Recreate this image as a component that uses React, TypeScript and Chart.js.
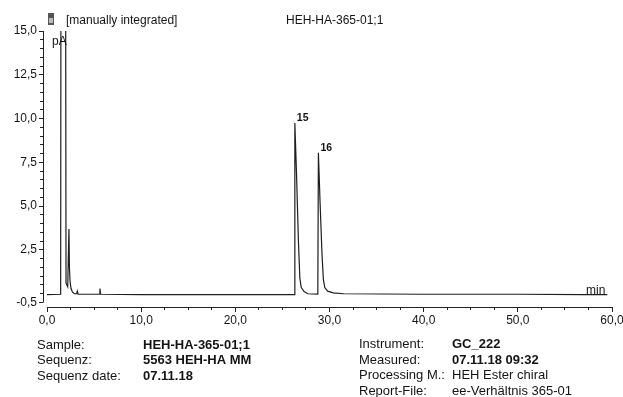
import React, { useEffect, useRef } from 'react';
import { Chart, registerables } from 'chart.js';

Chart.register(...registerables);

// ---- data ----
const times = [
  0, 1.45, 1.5, 1.95, 2.02, 2.2, 2.33, 2.38, 2.45, 2.55, 2.7, 2.9, 3.15, 3.22, 3.3,
  5.55, 5.62, 5.7, 10, 20, 26.27, 26.32, 26.5, 26.7, 26.85, 27.0, 27.3, 27.7,
  28.76, 28.82, 29.0, 29.2, 29.35, 29.5, 29.8, 30.4, 31.5, 40, 50, 57, 59.5,
];
const signal = [
  -0.05, -0.03, 30, 30, 0.6, 0.4, 3.7, 1.5, 0.7, 0.3, 0.1, 0.0, 0.0, 0.15, -0.02,
  -0.03, 0.3, -0.03, -0.05, -0.05, -0.05, 9.75, 6.8, 3.0, 0.9, 0.35, 0.12, 0.0,
  -0.02, 8.05, 5.2, 2.3, 0.8, 0.35, 0.15, 0.05, 0.0, -0.03, -0.03, -0.05, -0.05,
];

const peakNames = ['15', '16'];
const peakTimes = [26.32, 28.82];
const peakHeights = [9.75, 8.05];

const xMajorTicks = [0, 10, 20, 30, 40, 50, 60];
const xMinorTicks = [
  0, 2.5, 5, 7.5, 10, 12.5, 15, 17.5, 20, 22.5, 25, 27.5, 30, 32.5, 35, 37.5,
  40, 42.5, 45, 47.5, 50, 52.5, 55, 57.5, 60,
];
const yMajorTicks = [-0.5, 2.5, 5, 7.5, 10, 12.5, 15];
const yMinorTicks = [
  -0.5, 0, 0.5, 1, 1.5, 2, 2.5, 3, 3.5, 4, 4.5, 5, 5.5, 6, 6.5, 7, 7.5, 8, 8.5,
  9, 9.5, 10, 10.5, 11, 11.5, 12, 12.5, 13, 13.5, 14, 14.5, 15,
];

const headerNote = '[manually integrated]';
const chartTitle = 'HEH-HA-365-01;1';
const yUnit = 'pA';
const xUnit = 'min';

const infoLeftLabels = ['Sample:', 'Sequenz:', 'Sequenz date:'];
const infoLeftValues = ['HEH-HA-365-01;1', '5563 HEH-HA MM', '07.11.18'];
const infoRightLabels = ['Instrument:', 'Measured:', 'Processing M.:', 'Report-File:'];
const infoRightValues = ['GC_222', '07.11.18 09:32', 'HEH Ester chiral', 'ee-Verhältnis 365-01'];
const infoRightBold = [true, true, false, false];

// ---- layout constants ----
const X_MIN = -0.425;
const X_MAX = 60;
const Y_MIN = -0.757;
const Y_MAX = 15;
const FONT = '"Liberation Sans", Arial, Helvetica, sans-serif';
const INK = '#141414';

const fmt = (v: number) => v.toFixed(1).replace('.', ',');

const decorPlugin = {
  id: 'decor',
  afterDraw(chart: any) {
    const ctx = chart.ctx as CanvasRenderingContext2D;
    const xs = chart.scales.x;
    const ys = chart.scales.y;
    const area = chart.chartArea;
    ctx.save();
    // axis lines
    ctx.strokeStyle = '#222';
    ctx.lineWidth = 1;
    ctx.beginPath();
    const bx = Math.round(area.left) + 0.5;
    ctx.moveTo(bx, ys.getPixelForValue(15));
    ctx.lineTo(bx, ys.getPixelForValue(-0.5));
    const by = Math.round(area.bottom) + 0.5;
    ctx.moveTo(xs.getPixelForValue(0), by);
    ctx.lineTo(xs.getPixelForValue(60), by);
    ctx.stroke();

    ctx.fillStyle = INK;
    ctx.textBaseline = 'alphabetic';
    ctx.textAlign = 'left';

    // header icon
    ctx.fillStyle = '#555';
    ctx.fillRect(48, 13, 6, 12);
    ctx.fillStyle = '#bbb';
    ctx.fillRect(49, 18, 4, 5);
    ctx.fillStyle = INK;

    ctx.font = `12px ${FONT}`;
    ctx.fillText(headerNote, 66, 23.5);
    ctx.fillText(chartTitle, 286, 23.5);

    // units
    ctx.fillText(yUnit, 52, 45);
    ctx.fillText(xUnit, 586, 294);

    // peak labels
    ctx.font = `bold 10.5px ${FONT}`;
    for (let i = 0; i < peakNames.length; i++) {
      const px = xs.getPixelForValue(peakTimes[i]);
      const py = ys.getPixelForValue(peakHeights[i]);
      ctx.fillText(peakNames[i], px + 2, py - 1.5);
    }

    // info block
    const leftRows = [348.5, 363.5, 379.5];
    for (let i = 0; i < infoLeftLabels.length; i++) {
      ctx.font = `13px ${FONT}`;
      ctx.fillText(infoLeftLabels[i], 37, leftRows[i]);
      ctx.font = `bold 13px ${FONT}`;
      ctx.fillText(infoLeftValues[i], 143, leftRows[i]);
    }
    const rightRows = [347.5, 363.5, 378.5, 394.5];
    for (let i = 0; i < infoRightLabels.length; i++) {
      ctx.font = `13px ${FONT}`;
      ctx.fillText(infoRightLabels[i], 359, rightRows[i]);
      ctx.font = `${infoRightBold[i] ? 'bold ' : ''}13px ${FONT}`;
      ctx.fillText(infoRightValues[i], 452, rightRows[i]);
    }
    ctx.restore();
  },
};

export default function App() {
  const ref = useRef<HTMLCanvasElement | null>(null);

  useEffect(() => {
    if (!ref.current) return;
    const tickFont = { family: FONT, size: 12 };
    const chart = new Chart(ref.current, {
      type: 'line',
      data: {
        datasets: [
          {
            data: times.map((t, i) => ({ x: t, y: signal[i] })),
            borderColor: '#1e1e1e',
            borderWidth: 1.2,
            pointRadius: 0,
            tension: 0,
            fill: false,
          },
        ],
      },
      options: {
        animation: false,
        responsive: false,
        devicePixelRatio: 1,
        layout: { padding: { top: 31, right: 11, left: 0, bottom: 0 } },
        plugins: {
          legend: { display: false },
          tooltip: { enabled: false },
          title: { display: false },
        },
        scales: {
          x: {
            type: 'linear',
            position: 'bottom',
            min: X_MIN,
            max: X_MAX,
            weight: 1,
            afterBuildTicks: (s: any) => {
              s.ticks = xMajorTicks.map((v) => ({ value: v }));
            },
            afterFit: (s: any) => {
              s.height = 90;
              s.paddingLeft = 0;
              s.paddingRight = 0;
            },
            grid: { drawOnChartArea: false, tickLength: 5, color: '#222', lineWidth: 1 },
            border: { display: false },
            ticks: {
              autoSkip: false,
              maxRotation: 0,
              padding: 1,
              color: INK,
              font: tickFont,
              callback: (v: any) => fmt(Number(v)),
            },
          },
          x2: {
            type: 'linear',
            position: 'bottom',
            min: X_MIN,
            max: X_MAX,
            weight: 0,
            afterBuildTicks: (s: any) => {
              s.ticks = xMinorTicks.map((v) => ({ value: v }));
            },
            afterFit: (s: any) => {
              s.height = 0;
              s.paddingLeft = 0;
              s.paddingRight = 0;
            },
            grid: { drawOnChartArea: false, tickLength: 3, color: '#222', lineWidth: 1 },
            border: { display: false },
            ticks: { display: false },
          },
          y: {
            type: 'linear',
            position: 'left',
            min: Y_MIN,
            max: Y_MAX,
            weight: 1,
            afterBuildTicks: (s: any) => {
              s.ticks = yMajorTicks.map((v) => ({ value: v }));
            },
            afterFit: (s: any) => {
              s.width = 43;
              s.paddingTop = 0;
              s.paddingBottom = 0;
            },
            grid: { drawOnChartArea: false, tickLength: 4, color: '#222', lineWidth: 1 },
            border: { display: false },
            ticks: {
              autoSkip: false,
              padding: 2,
              color: INK,
              font: tickFont,
              callback: (v: any) => fmt(Number(v)),
            },
          },
          y2: {
            type: 'linear',
            position: 'left',
            min: Y_MIN,
            max: Y_MAX,
            weight: 0,
            afterBuildTicks: (s: any) => {
              s.ticks = yMinorTicks.map((v) => ({ value: v }));
            },
            afterFit: (s: any) => {
              s.width = 0;
              s.paddingTop = 0;
              s.paddingBottom = 0;
            },
            grid: { drawOnChartArea: false, tickLength: 3, color: '#222', lineWidth: 1 },
            border: { display: false },
            ticks: { display: false },
          },
        },
      },
      plugins: [decorPlugin],
    } as any);
    return () => chart.destroy();
  }, []);

  return (
    <div style={{ position: 'fixed', left: 0, top: 0, width: 623, height: 397, background: '#fff', overflow: 'hidden' }}>
      <canvas ref={ref} width={623} height={397} style={{ display: 'block', width: 623, height: 397 }} />
    </div>
  );
}
